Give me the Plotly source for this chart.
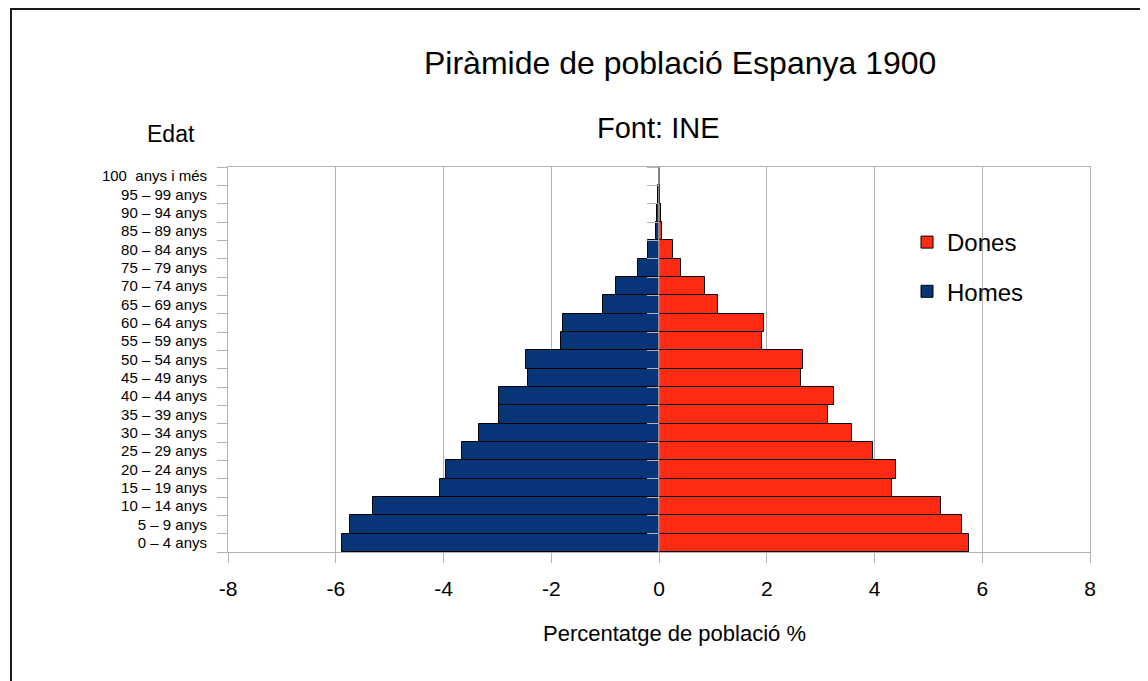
import plotly.graph_objects as go

# ---- data ----
edats = [
    "0 – 4 anys", "5 – 9 anys", "10 – 14 anys", "15 – 19 anys", "20 – 24 anys",
    "25 – 29 anys", "30 – 34 anys", "35 – 39 anys", "40 – 44 anys", "45 – 49 anys",
    "50 – 54 anys", "55 – 59 anys", "60 – 64 anys", "65 – 69 anys", "70 – 74 anys",
    "75 – 79 anys", "80 – 84 anys", "85 – 89 anys", "90 – 94 anys", "95 – 99 anys",
    "100\u00a0 anys i més",
]
homes = [5.88, 5.73, 5.30, 4.06, 3.96, 3.65, 3.34, 2.97, 2.97, 2.43,
         2.46, 1.82, 1.79, 1.04, 0.80, 0.39, 0.21, 0.06, 0.04, 0.01, 0.005]
dones = [5.75, 5.62, 5.23, 4.32, 4.40, 3.97, 3.58, 3.14, 3.24, 2.64,
         2.67, 1.91, 1.94, 1.09, 0.86, 0.41, 0.26, 0.05, 0.04, 0.01, 0.005]
x_ticks = [-8, -6, -4, -2, 0, 2, 4, 6, 8]

titol = "Piràmide de població Espanya 1900"
subtitol = "Font: INE"
titol_y = "Edat"
titol_x = "Percentatge de població %"

BLUE = "#083578"
RED = "#ff2a12"
GRID = "#b3b3b3"
FONT = "Liberation Sans, Arial, sans-serif"

# the page puts the figure 8 px from the top-left corner of the window
OFF = 8
W, H = 1148 - OFF, 681 - OFF
L, R, T, B = 228 - OFF, 58, 167 - OFF, 129
pw, ph = W - L - R, H - T - B


def px(xp):
    """window x pixel -> paper x"""
    return (xp - OFF - L) / pw


def py(yp):
    """window y pixel -> paper y"""
    return (H - B - (yp - OFF)) / ph


fig = go.Figure()
fig.add_trace(go.Bar(
    y=edats, x=dones, orientation="h", name="Dones",
    marker=dict(color=RED, line=dict(color="#000000", width=1)),
    legendgroup="d",
))
fig.add_trace(go.Bar(
    y=edats, x=[-v for v in homes], orientation="h", name="Homes",
    marker=dict(color=BLUE, line=dict(color="#000000", width=1)),
    legendgroup="h",
))
# invisible helper trace carrying the tick marks at x = 0
fig.add_trace(go.Bar(
    y=edats, x=[0] * len(edats), orientation="h", yaxis="y2",
    showlegend=False, hoverinfo="skip", marker=dict(color="rgba(0,0,0,0)"),
))

fig.update_layout(
    width=W, height=H,
    margin=dict(l=L, r=R, t=T, b=B, autoexpand=False),
    paper_bgcolor="white", plot_bgcolor="white",
    barmode="relative", bargap=0,
    font=dict(family=FONT, color="#000000"),
    showlegend=True,
    legend=dict(
        x=px(907), y=py(220), xanchor="left", yanchor="top",
        font=dict(size=24, family=FONT, color="#000000"),
        bgcolor="rgba(0,0,0,0)", traceorder="grouped", tracegroupgap=15,
    ),
    xaxis=dict(
        range=[-8, 8], tickvals=x_ticks, ticktext=[str(v) for v in x_ticks],
        showgrid=True, gridcolor=GRID, gridwidth=1,
        zeroline=True, zerolinecolor="#555555", zerolinewidth=1,
        showline=True, linecolor=GRID, linewidth=1, mirror=True,
        ticks="outside", ticklen=10, tickcolor=GRID,
        tickfont=dict(size=21, family=FONT, color="#000000"),
        ticklabelstandoff=8,
        fixedrange=True,
    ),
    yaxis=dict(
        type="category", categoryorder="array", categoryarray=edats,
        range=[-0.5, len(edats) - 0.5],
        showgrid=False, zeroline=False,
        showline=True, linecolor=GRID, linewidth=1, mirror=True,
        ticks="outside", ticklen=10, tickcolor=GRID, tickson="boundaries",
        tickfont=dict(size=15, family=FONT, color="#000000"),
        ticklabelstandoff=17,
        fixedrange=True,
    ),
    yaxis2=dict(
        type="category", categoryorder="array", categoryarray=edats,
        range=[-0.5, len(edats) - 0.5],
        overlaying="y", anchor="free", position=0.5, side="left",
        showgrid=False, zeroline=False, showline=False,
        showticklabels=False, ticks="outside", ticklen=12, tickcolor=GRID,
        tickson="boundaries", fixedrange=True,
    ),
    annotations=[
        dict(text=titol, x=px(680), y=py(63), xref="paper", yref="paper",
             xanchor="center", yanchor="middle", showarrow=False,
             font=dict(size=32, family=FONT, color="#000000")),
        dict(text=subtitol, x=px(658), y=py(128), xref="paper", yref="paper",
             xanchor="center", yanchor="middle", showarrow=False,
             font=dict(size=29, family=FONT, color="#000000")),
        dict(text=titol_y, x=px(171), y=py(134), xref="paper", yref="paper",
             xanchor="center", yanchor="middle", showarrow=False,
             font=dict(size=23, family=FONT, color="#000000")),
        dict(text=titol_x, x=px(674), y=py(633), xref="paper", yref="paper",
             xanchor="center", yanchor="middle", showarrow=False,
             font=dict(size=22, family=FONT, color="#000000")),
    ],
    shapes=[
        dict(type="path", xref="paper", yref="paper",
             path=f"M {px(11)} {py(H + 20)} L {px(11)} {py(OFF + 1)} L {px(1141)} {py(OFF + 1)} L {px(1141)} {py(H + 20)}",
             line=dict(color="#1a1a1a", width=2)),
    ],
)

fig.write_html("out.html")
